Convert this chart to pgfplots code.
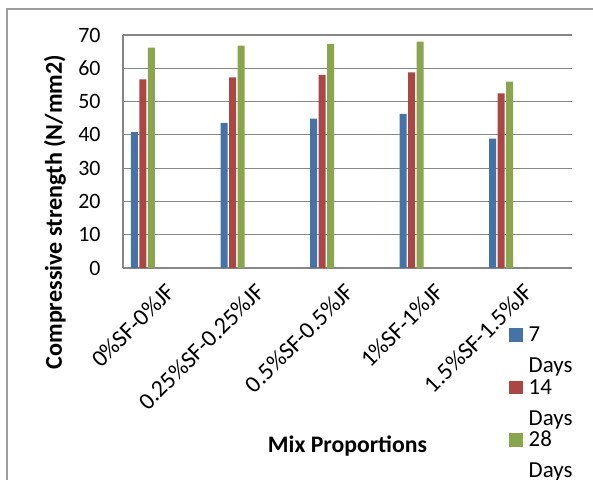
\documentclass[border=0pt]{standalone}
\usepackage{fontspec}
\setmainfont{Carlito}
\usepackage{pgfplots}
\pgfplotsset{compat=1.18}
\definecolor{cblue}{HTML}{4572A7}
\definecolor{cred}{HTML}{AA4643}
\definecolor{cgreen}{HTML}{89A54E}
\definecolor{gridgray}{RGB}{134,134,134}
\begin{document}
\begin{tikzpicture}
\begin{axis}[
  at={(0,0)}, anchor=south west,
  width=449bp, height=233bp, scale only axis,
  xmin=-0.223, xmax=4.790, ymin=0, ymax=70,
  ytick={0,10,...,70},
  xtick={0,1,2,3,4},
  xticklabels={0\%SF-0\%JF, 0.25\%SF-0.25\%JF, 0.5\%SF-0.5\%JF, 1\%SF-1\%JF, 1.5\%SF-1.5\%JF},
  axis x line*=bottom, axis y line*=left,
  axis line style={-, draw=gridgray, line width=1.2bp},
  ymajorgrids, grid style={draw=gridgray, line width=1.2bp},
  major tick length=0pt,
  ybar, bar width=7bp,
  /pgf/number format/assume math mode=true,
  yticklabel style={font=\fontsize{22}{26}\selectfont, xshift=-19bp},
  xticklabel style={xshift=22bp, yshift=-9bp, rotate=45, anchor=north east, font=\fontsize{24}{28}\selectfont},
  xlabel={Mix Proportions}, ylabel={Compressive strength (N/mm2)},
  xlabel style={font=\fontsize{23.8}{28}\selectfont\bfseries, at={(axis description cs:0.5,-0.7927)}, anchor=base},
  ylabel style={font=\fontsize{24.2}{28}\selectfont\bfseries, at={(axis description cs:-0.1359,0.24)}, anchor=base},
  legend style={at={(axis description cs:0.8597,-0.2562)}, anchor=north west, draw=none, fill=none, inner sep=0pt, row sep=0pt, column sep=6bp, font=\fontsize{23}{27}\selectfont, nodes={inner sep=0pt}, cells={anchor=base west}},
]
\addplot[fill=cblue, draw=none, bar shift=-8.5bp, legend image code/.code={\fill[cblue] (0,0) rectangle (13.5bp,13.5bp);}] coordinates {(0,40.8) (1,43.6) (2,44.9) (3,46.3) (4,38.9)};
\addlegendentry[text height=14bp, text depth=16.5bp]{7}
\addlegendimage{empty legend}
\addlegendentry[text height=14.5bp, text depth=7.5bp]{Days}
\addplot[fill=cred, draw=none, bar shift=0bp, legend image code/.code={\fill[cred] (0,0) rectangle (13.5bp,13.5bp);}] coordinates {(0,56.7) (1,57.3) (2,58.0) (3,58.8) (4,52.5)};
\addlegendentry[text height=14bp, text depth=16.5bp]{14}
\addlegendimage{empty legend}
\addlegendentry[text height=14.5bp, text depth=7.5bp]{Days}
\addplot[fill=cgreen, draw=none, bar shift=8.5bp, legend image code/.code={\fill[cgreen] (0,0) rectangle (13.5bp,13.5bp);}] coordinates {(0,66.2) (1,66.8) (2,67.3) (3,68.0) (4,56.0)};
\addlegendentry[text height=14bp, text depth=16.5bp]{28}
\addlegendimage{empty legend}
\addlegendentry[text height=14.5bp, text depth=7.5bp]{Days}
\end{axis}
\pgfresetboundingbox
\useasboundingbox (-123bp,-212bp) rectangle (470bp,268bp);
\draw[gridgray!80, line width=1.2bp] (-116bp,-230bp) -- (-116bp,259bp) -- (490bp,259bp);
\end{tikzpicture}
\end{document}
